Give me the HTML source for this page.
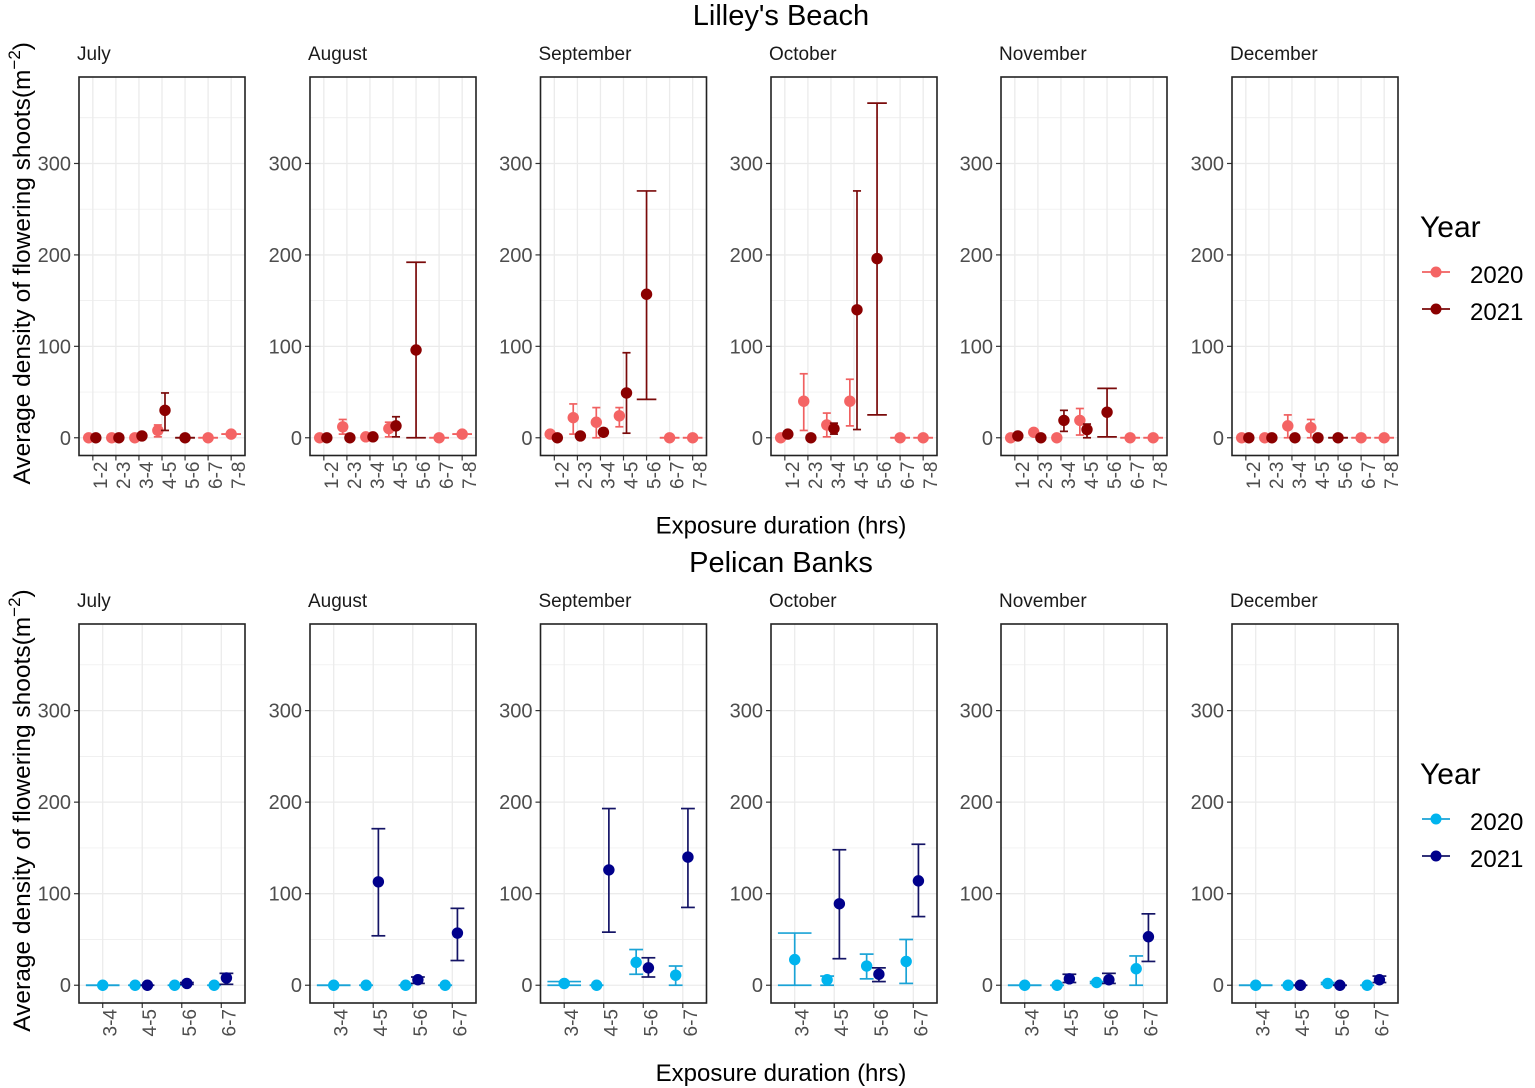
<!DOCTYPE html>
<html><head><meta charset="utf-8"><style>
html,body{margin:0;padding:0;background:#fff;}
svg{display:block;font-family:"Liberation Sans",Arial,sans-serif;}
</style></head><body>
<svg id="chart" width="1535" height="1088" viewBox="0 0 1535 1088" xmlns="http://www.w3.org/2000/svg"></svg>
<script>
const months = ["July","August","September","October","November","December"];
const topCats = ["1-2","2-3","3-4","4-5","5-6","6-7","7-8"];
const botCats = ["3-4","4-5","5-6","6-7"];
const yTicks = [0,100,200,300];
const yMinor = [50,150,250,350];
// Lilley's Beach 2020
const lb20Mean = [[0,0,0,8,null,0,4],[0,12,1,10,null,0,4],[4,22,17,24,null,0,0],[0,40,14,40,null,0,0],[0,6,0,19,null,0,0],[0,0,13,11,null,0,0]];
const lb20Lo = [[0,0,0,1,null,0,4],[0,4,0,1,null,0,4],[4,4,0,12,null,0,0],[0,8,1,13,null,0,0],[0,6,0,3,null,0,0],[0,0,0,0,null,0,0]];
const lb20Hi = [[0,0,0,14,null,0,4],[0,20,2,17,null,0,4],[4,37,33,33,null,0,0],[0,70,27,64,null,0,0],[0,6,0,32,null,0,0],[0,0,25,20,null,0,0]];
// Lilley's Beach 2021
const lb21Mean = [[0,0,2,30,0,null,null],[0,0,1,13,96,null,null],[0,2,6,49,157,null,null],[4,0,10,140,196,null,null],[2,0,19,9,28,null,null],[0,0,0,0,0,null,null]];
const lb21Lo = [[0,0,1,8,0,null,null],[0,0,0,1,0,null,null],[0,1,2,5,42,null,null],[3,0,4,9,25,null,null],[1,0,7,0,1,null,null],[0,0,0,0,0,null,null]];
const lb21Hi = [[0,0,3,49,0,null,null],[0,0,2,23,192,null,null],[0,3,10,93,270,null,null],[5,0,16,270,366,null,null],[3,0,30,15,54,null,null],[0,0,0,0,0,null,null]];
// Pelican Banks 2020
const pb20Mean = [[0,0,0,0],[0,0,0,0],[2,0,25,11],[28,6,21,26],[0,0,3,18],[0,0,2,0]];
const pb20Lo = [[0,0,0,0],[0,0,0,0],[0,0,12,0],[0,0,7,2],[0,0,2,0],[0,0,1,0]];
const pb20Hi = [[0,0,0,0],[0,0,0,0],[4,0,39,21],[57,10,34,50],[0,0,4,32],[0,0,3,0]];
// Pelican Banks 2021
const pb21Mean = [[null,0,2,8],[null,113,6,57],[null,126,19,140],[null,89,12,114],[null,7,6,53],[null,0,0,6]];
const pb21Lo = [[null,0,1,1],[null,54,2,27],[null,58,9,85],[null,29,4,75],[null,3,2,26],[null,0,0,3]];
const pb21Hi = [[null,0,3,13],[null,171,9,84],[null,193,30,193],[null,148,19,154],[null,12,13,78],[null,0,0,10]];

const NS = "http://www.w3.org/2000/svg";
const svg = document.getElementById("chart");
function mk(tag, attrs, parent){
  const e = document.createElementNS(NS, tag);
  for (const k in attrs) e.setAttribute(k, attrs[k]);
  (parent||svg).appendChild(e);
  return e;
}
const panelLefts = [79,310,540.5,771,1001,1232];
const PW = 166;
const YMIN = -19.4, YMAX = 394.6;

function drawRow(cfg){
  const n = cfg.cats.length;
  const unit = PW/(n-1+1.2);
  for (let m=0;m<6;m++){
    const L = panelLefts[m], T = cfg.top, B = cfg.bottom;
    const g = mk("g",{});
    
    
    const xs = i => L + unit*(0.6+i);
    const ys = v => B - (v-YMIN)/(YMAX-YMIN)*(B-T);
    yMinor.forEach(v=>{mk("line",{x1:L,x2:L+PW,y1:ys(v),y2:ys(v),stroke:"#ebebeb","stroke-width":0.7},g);});
    yTicks.forEach(v=>{mk("line",{x1:L,x2:L+PW,y1:ys(v),y2:ys(v),stroke:"#ebebeb","stroke-width":1.3},g);});
    cfg.cats.forEach((c,i)=>{mk("line",{x1:xs(i),x2:xs(i),y1:T,y2:B,stroke:"#ebebeb","stroke-width":1.3},g);});
    const ml = mk("text",{x:L-2,y:cfg.top-17,"font-size":19,fill:"#1a1a1a"},g);
    ml.textContent = months[m];
    
    
    yTicks.forEach(v=>{
      mk("line",{x1:L-5,x2:L,y1:ys(v),y2:ys(v),stroke:"#333","stroke-width":1.2},g);
      const t = mk("text",{x:L-8,y:ys(v)+7,"font-size":20,fill:"#4d4d4d","text-anchor":"end"},g);
      t.textContent = v;
      
      
    });
    cfg.cats.forEach((c,i)=>{
      mk("line",{x1:xs(i),x2:xs(i),y1:B,y2:B+5,stroke:"#333","stroke-width":1.2},g);
      const tx = xs(i)+14, ty = B+6;
      const t = mk("text",{x:tx,y:ty,"font-size":19,fill:"#4d4d4d","text-anchor":"end",transform:"rotate(-90 "+tx+" "+ty+")"},g);
      t.textContent = c;
      
      
    });
    const series = [
      {mean:cfg.m20[m],lo:cfg.lo20[m],hi:cfg.hi20[m],col:cfg.c20,ecol:cfg.e20,off:-0.18,name:"2020"},
      {mean:cfg.m21[m],lo:cfg.lo21[m],hi:cfg.hi21[m],col:cfg.c21,ecol:cfg.e21,off:0.13,name:"2021"}
    ];
    series.forEach((s,si)=>{
      const other = series[1-si];
      s.mean.forEach((v,i)=>{
        if (v===null) return;
        const both = other.mean[i]!==null;
        const cx = xs(i) + (both ? s.off*unit : 0);
        const cw = (both?0.35:0.85)*unit/2;
        const eg = mk("g",{},g);
        
        
        const yl = ys(s.lo[i]), yh = ys(s.hi[i]);
        mk("line",{x1:cx,x2:cx,y1:yl,y2:yh,stroke:s.ecol,"stroke-width":1.7},eg);
        mk("line",{x1:cx-cw,x2:cx+cw,y1:yl,y2:yl,stroke:s.ecol,"stroke-width":1.7},eg);
        mk("line",{x1:cx-cw,x2:cx+cw,y1:yh,y2:yh,stroke:s.ecol,"stroke-width":1.7},eg);
        const p = mk("circle",{cx:cx,cy:ys(v),r:5.7,fill:s.col},g);
        
        
      });
    });
    mk("rect",{x:L,y:T,width:PW,height:B-T,fill:"none",stroke:"#222","stroke-width":1.6},g);
  }
  const tt = mk("text",{x:781,y:cfg.top-52,"font-size":29,"text-anchor":"middle",fill:"#000"});
  tt.textContent = cfg.title;
  
  
  const xt = mk("text",{x:781,y:cfg.bottom+78,"font-size":24,"text-anchor":"middle",fill:"#000"});
  xt.textContent = "Exposure duration (hrs)";
  
  
  const cy = (cfg.top+cfg.bottom)/2 - 3;
  const yt = mk("text",{x:0,y:0,"font-size":24.5,"text-anchor":"middle",fill:"#000",transform:"translate(30 "+cy+") rotate(-90)"});
  
  
  const a = mk("tspan",{},yt); a.textContent = "Average density of flowering shoots(m";
  const b = mk("tspan",{dy:-10,"font-size":17},yt); b.textContent = "−2";
  const c = mk("tspan",{dy:10},yt); c.textContent = ")";
  const lg = mk("g",{});
  
  
  const ly = cfg.legendY;
  const lt = mk("text",{x:1420,y:ly,"font-size":30,fill:"#000"},lg); lt.textContent = "Year";
  [[cfg.c20,cfg.e20,"2020",46],[cfg.c21,cfg.e21,"2021",83]].forEach(e=>{
    const eg = mk("g",{},lg);
    
    
    mk("line",{x1:1422,x2:1450,y1:ly+e[3]-11,y2:ly+e[3]-11,stroke:e[1],"stroke-width":1.7},eg);
    mk("circle",{cx:1436,cy:ly+e[3]-11,r:5.5,fill:e[0]},eg);
    const t = mk("text",{x:1470,y:ly+e[3],"font-size":24,fill:"#000"},eg); t.textContent = e[2];
  });
}
drawRow({key:"lilleys-beach",title:"Lilley's Beach",top:77,bottom:455.5,cats:topCats,
  m20:lb20Mean,lo20:lb20Lo,hi20:lb20Hi,m21:lb21Mean,lo21:lb21Lo,hi21:lb21Hi,
  c20:"#F46464",e20:"#F06060",c21:"#8B0000",e21:"#7a0a0a",legendY:237});
drawRow({key:"pelican-banks",title:"Pelican Banks",top:624,bottom:1003,cats:botCats,
  m20:pb20Mean,lo20:pb20Lo,hi20:pb20Hi,m21:pb21Mean,lo21:pb21Lo,hi21:pb21Hi,
  c20:"#00B4EE",e20:"#1AA3D6",c21:"#00008B",e21:"#141466",legendY:784});
</script>
</body></html>
